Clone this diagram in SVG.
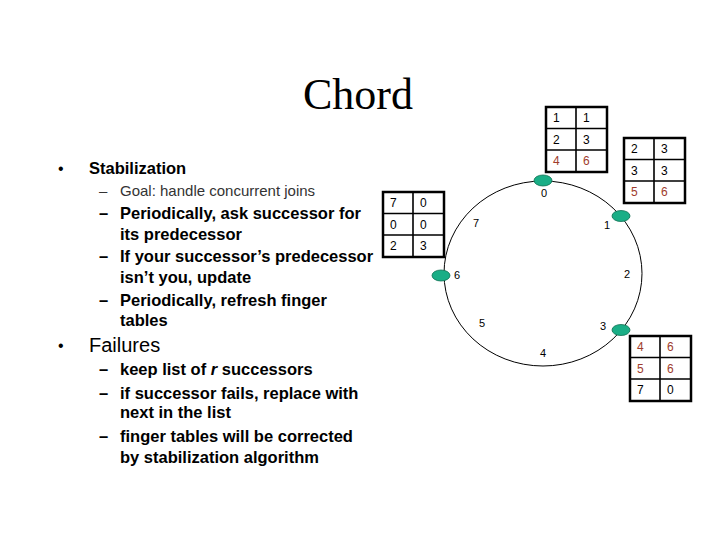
<svg xmlns="http://www.w3.org/2000/svg" width="720" height="540" viewBox="0 0 720 540">
<style>
.title{font-family:"Liberation Serif","Times New Roman",serif;font-size:44px;fill:#000}
.b{font-family:"Liberation Sans",Arial,sans-serif;font-size:16.5px;font-weight:bold;fill:#000}
.r{font-family:"Liberation Sans",Arial,sans-serif;fill:#000}
.goal{font-family:"Liberation Sans",Arial,sans-serif;font-size:15px;fill:#333}
.lbl{font-family:"Liberation Sans",Arial,sans-serif;font-size:11px;fill:#000;text-anchor:middle}
.cell{font-family:"Liberation Sans",Arial,sans-serif;font-size:12px;fill:#000}
.red{fill:#a03c2c}
.outer{fill:#fff;stroke:#000;stroke-width:2.5}
.inner{stroke:#000;stroke-width:1.6;fill:none}
.node{fill:#1aae86;stroke:#0e6e52;stroke-width:0.8}
.ring{fill:none;stroke:#000;stroke-width:1}
</style>
<defs>
<g id="grid">
<rect class="outer" x="0" y="0" width="61" height="65"/>
<path class="inner" d="M30 0V65M0 21.5H61M0 43H61"/>
</g>
</defs>
<text class="title" x="358" y="109" text-anchor="middle">Chord</text>
<g id="text-left">
<text class="r" x="58" y="174" font-size="16">•</text>
<text class="b" x="89" y="174">Stabilization</text>
<text class="goal" x="99" y="196">–</text>
<text class="goal" x="120" y="196">Goal: handle concurrent joins</text>
<text class="b" x="99" y="219">–</text>
<text class="b" x="120" y="219">Periodically, ask successor for</text>
<text class="b" x="120" y="240">its predecessor</text>
<text class="b" x="99" y="262">–</text>
<text class="b" x="120" y="262">If your successor’s predecessor</text>
<text class="b" x="120" y="283">isn’t you, update</text>
<text class="b" x="99" y="306">–</text>
<text class="b" x="120" y="306">Periodically, refresh finger</text>
<text class="b" x="120" y="326">tables</text>
<text class="r" x="58" y="351" font-size="16">•</text>
<text class="r" x="89" y="352" font-size="20">Failures</text>
<text class="b" x="99" y="375">–</text>
<text class="b" x="120" y="375">keep list of <tspan font-style="italic">r</tspan> successors</text>
<text class="b" x="99" y="399">–</text>
<text class="b" x="120" y="399">if successor fails, replace with</text>
<text class="b" x="120" y="418">next in the list</text>
<text class="b" x="99" y="442">–</text>
<text class="b" x="120" y="442">finger tables will be corrected</text>
<text class="b" x="120" y="463">by stabilization algorithm</text>
</g>
<g id="connectors">
<ellipse class="ring" cx="543" cy="273.5" rx="99" ry="92.5"/>
</g>
<g id="ring-labels">
<text class="lbl" x="544" y="197">0</text>
<text class="lbl" x="607" y="229">1</text>
<text class="lbl" x="627" y="278">2</text>
<text class="lbl" x="603" y="330">3</text>
<text class="lbl" x="543" y="357">4</text>
<text class="lbl" x="482" y="327">5</text>
<text class="lbl" x="457" y="279">6</text>
<text class="lbl" x="476" y="227">7</text>
</g>
<g id="node0"><ellipse class="node" cx="543" cy="180.5" rx="9" ry="5.5"/></g>
<g id="node1"><ellipse class="node" cx="621" cy="216" rx="9" ry="5.5"/></g>
<g id="node3"><ellipse class="node" cx="621" cy="330" rx="9" ry="5.5"/></g>
<g id="node6"><ellipse class="node" cx="441" cy="275.5" rx="9" ry="5.5"/></g>
<g id="table0" transform="translate(546,107)">
<use href="#grid"/>
<text class="cell" x="7" y="15">1</text><text class="cell" x="37" y="15">1</text>
<text class="cell" x="7" y="36.5">2</text><text class="cell" x="37" y="36.5">3</text>
<text class="cell red" x="7" y="58">4</text><text class="cell red" x="37" y="58">6</text>
</g>
<g id="table1" transform="translate(624,138)">
<use href="#grid"/>
<text class="cell" x="7" y="15">2</text><text class="cell" x="37" y="15">3</text>
<text class="cell" x="7" y="36.5">3</text><text class="cell" x="37" y="36.5">3</text>
<text class="cell red" x="7" y="58">5</text><text class="cell red" x="37" y="58">6</text>
</g>
<g id="table6" transform="translate(383,192)">
<use href="#grid"/>
<text class="cell" x="7" y="15">7</text><text class="cell" x="37" y="15">0</text>
<text class="cell" x="7" y="36.5">0</text><text class="cell" x="37" y="36.5">0</text>
<text class="cell" x="7" y="58">2</text><text class="cell" x="37" y="58">3</text>
</g>
<g id="table3" transform="translate(630,336)">
<use href="#grid"/>
<text class="cell red" x="7" y="15">4</text><text class="cell red" x="37" y="15">6</text>
<text class="cell red" x="7" y="36.5">5</text><text class="cell red" x="37" y="36.5">6</text>
<text class="cell" x="7" y="58">7</text><text class="cell" x="37" y="58">0</text>
</g>
</svg>
